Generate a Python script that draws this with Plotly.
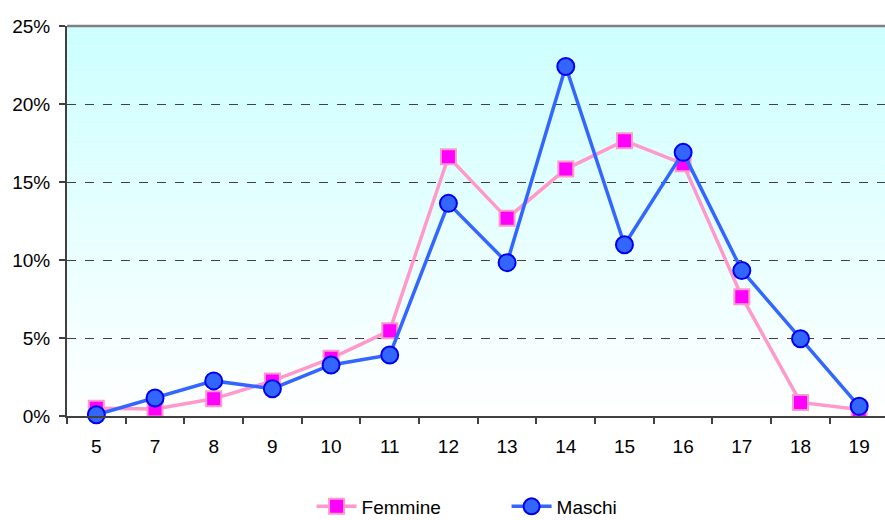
import plotly.graph_objects as go

categories = ["5", "7", "8", "9", "10", "11", "12", "13", "14", "15", "16", "17", "18", "19"]
femmine = [0.5, 0.45, 1.1, 2.25, 3.7, 5.47, 16.62, 12.67, 15.83, 17.65, 16.17, 7.65, 0.87, 0.42]
maschi = [0.08, 1.15, 2.25, 1.75, 3.27, 3.91, 13.63, 9.83, 22.4, 10.98, 16.9, 9.33, 4.95, 0.62]
y_tick_vals = [0, 5, 10, 15, 20, 25]
y_tick_text = ["0%", "5%", "10%", "15%", "20%", "25%"]

FONT = "Liberation Sans, Arial, sans-serif"

fig = go.Figure()
fig.add_trace(go.Scatter(
    x=categories, y=femmine, name="Femmine", mode="lines+markers",
    line=dict(color="#FF99CC", width=3.5),
    marker=dict(symbol="square", size=15, color="#FF00FF",
                line=dict(color="#FF99CC", width=2)),
    cliponaxis=False,
))
fig.add_trace(go.Scatter(
    x=categories, y=maschi, name="Maschi", mode="lines+markers",
    line=dict(color="#3366FF", width=3.5),
    marker=dict(symbol="circle", size=17, color="#3366FF",
                line=dict(color="#0000EE", width=2)),
    cliponaxis=False,
))

# vertical gradient background (cyan top -> white bottom)
shapes = []
n = 60
for i in range(n):
    t = i / (n - 1)  # 0 bottom, 1 top
    r = int(round(255 + (204 - 255) * t))
    shapes.append(dict(
        type="rect", xref="x domain", yref="y domain",
        x0=0, x1=1, y0=i / n, y1=(i + 1) / n,
        fillcolor=f"rgb({r},255,255)", line=dict(width=0), layer="below",
    ))
shapes.append(dict(type="line", xref="x domain", yref="y domain",
                   x0=0, x1=1, y0=1, y1=1,
                   line=dict(color="#808080", width=2.5), layer="above"))

fig.update_layout(
    width=885, height=520,
    margin=dict(l=67, r=0, t=26, b=104, autoexpand=False),
    paper_bgcolor="white", plot_bgcolor="white",
    font=dict(family=FONT, size=19, color="black"),
    shapes=shapes,
    showlegend=True,
    legend=dict(orientation="h", x=0.299, xanchor="left", y=-0.232, yanchor="middle",
                font=dict(family=FONT, size=19), itemwidth=40,
                bgcolor="rgba(0,0,0,0)", tracegroupgap=0, entrywidth=140),
)
fig.update_xaxes(
    type="category", range=[-0.5, 13.44], automargin=False,
    showline=True, linecolor="#404040", linewidth=2,
    ticks="outside", tickson="boundaries", ticklen=6, tickcolor="#404040", tickwidth=1.5,
    showgrid=False, ticklabelstandoff=12,
    tickfont=dict(family=FONT, size=19),
)
fig.update_yaxes(
    range=[0, 25], tickmode="array", tickvals=y_tick_vals, ticktext=y_tick_text,
    automargin=False,
    showline=True, linecolor="#404040", linewidth=2,
    ticks="outside", ticklen=6, tickcolor="#404040", tickwidth=1.5,
    showgrid=True, gridcolor="#404040", gridwidth=1, griddash="dash",
    zeroline=False, ticklabelstandoff=5,
    tickfont=dict(family=FONT, size=19),
)

fig.write_html("out.html", config={"displayModeBar": False},
               post_script="document.body.style.margin='0';document.body.style.overflow='hidden';")
